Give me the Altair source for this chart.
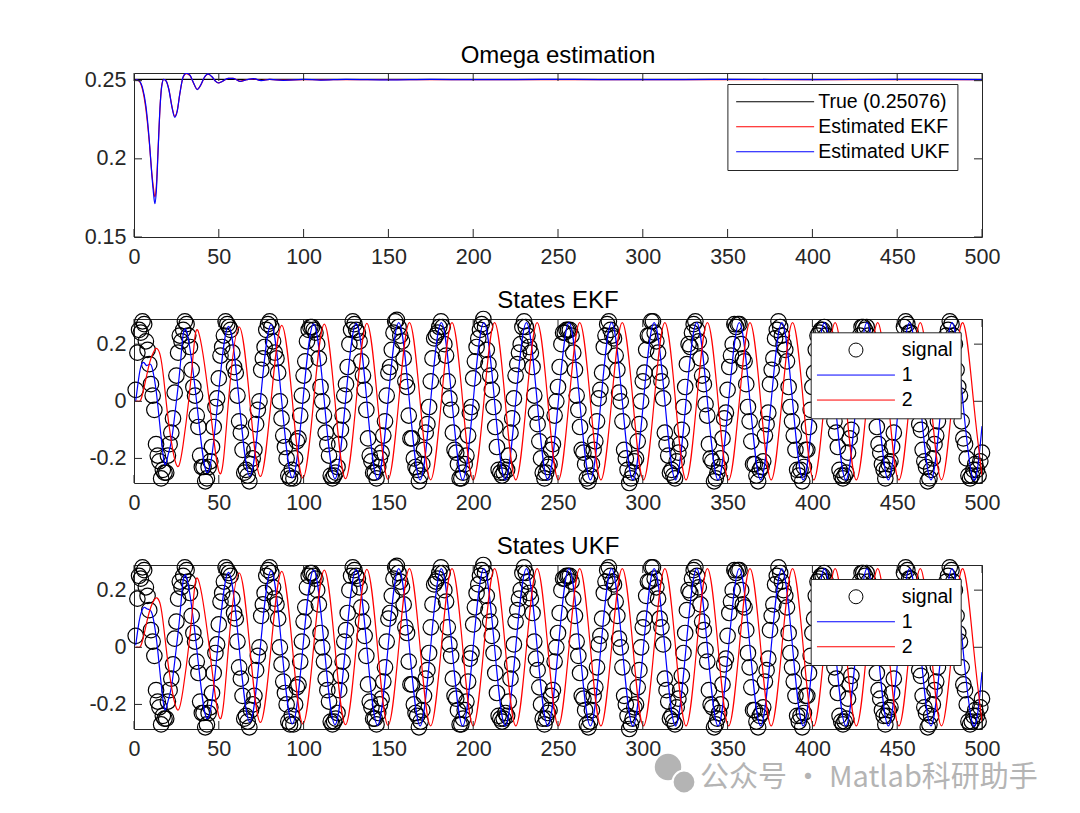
import altair as alt
import pandas as pd

FONT = "Liberation Sans"
AX = "#262626"
W, H = 848, 164
TL = 8
PATH = "M-5.57,0H5.57"

# ---------------- data ----------------
x_ticks = [0, 50, 100, 150, 200, 250, 300, 350, 400, 450, 500]
omega_ticks = [0.15, 0.2, 0.25]
state_ticks = [-0.2, 0, 0.2]
omega_domain = [0.15, 0.2549]
state_domain = [-0.286, 0.288]

true_omega = 0.25076
true_x = [0, 500]

omega_x = [1, 3, 5, 7, 9, 10.5, 11.5, 12.3, 13.2, 14.2, 15.3, 16.3, 17.5, 19, 20.5,
           22.5, 24, 25.5, 27, 29, 30.8, 33, 35, 37.3, 39.5, 41.5, 43.6, 46, 48, 49.8,
           52, 55.5, 58.5, 62.5, 66.5, 70.5, 75, 80, 88, 100, 110, 125, 150, 175, 200,
           250, 300, 350, 400, 450, 500]
omega_ukf = [0.2507, 0.2500, 0.2455, 0.234, 0.212, 0.19, 0.178, 0.1713, 0.18, 0.205,
             0.232, 0.246, 0.2508, 0.2497, 0.2445, 0.2325, 0.2266, 0.2305, 0.2415, 0.2525,
             0.2548, 0.2535, 0.2488, 0.2443, 0.2475, 0.2522, 0.2543, 0.2525, 0.2497, 0.2485,
             0.2495, 0.2515, 0.2515, 0.2495, 0.2506, 0.2513, 0.2500, 0.2508, 0.2502, 0.2508,
             0.2504, 0.2508, 0.2505, 0.2508, 0.2506, 0.2508, 0.2506, 0.2508, 0.2507, 0.2508,
             0.2507]
omega_ekf = [0.2507, 0.2498, 0.2445, 0.232, 0.211, 0.191, 0.181, 0.1756, 0.183, 0.206,
             0.232, 0.2465, 0.2508, 0.2497, 0.2447, 0.2328, 0.2272, 0.2308, 0.2415, 0.2523,
             0.2545, 0.2533, 0.2487, 0.2445, 0.2475, 0.252, 0.2541, 0.2524, 0.2497, 0.2486,
             0.2495, 0.2514, 0.2515, 0.2496, 0.2506, 0.2512, 0.2501, 0.2508, 0.2503, 0.2507,
             0.2505, 0.2507, 0.2506, 0.2507, 0.2507, 0.2507, 0.2507, 0.2507, 0.2507, 0.2507,
             0.2507]

# measured signal samples: odd steps 1,3,...,499 and even steps 2,4,...,500
signal_odd_x = list(range(1, 500, 2))
signal_even_x = list(range(2, 501, 2))
signal_odd = [
    0.04, 0.25, 0.28, 0.21, 0.13, 0.02, -0.15, -0.21, -0.24, -0.25, -0.15, -0.06, 0.09, 0.23, 0.25, 0.27, 0.19, 0.05, -0.05, -0.19, -0.23, -0.27, -0.21, -0.09, 0.01,
    0.16, 0.23, 0.27, 0.25, 0.12, 0.02, -0.11, -0.25, -0.26, -0.22, -0.17, -0.03, 0.11, 0.19, 0.27, 0.26, 0.17, 0.10, -0.06, -0.16, -0.26, -0.24, -0.20, -0.13, 0.02,
    0.14, 0.25, 0.26, 0.24, 0.15, 0.00, -0.11, -0.19, -0.27, -0.25, -0.15, -0.05, 0.06, 0.20, 0.28, 0.25, 0.21, 0.09, -0.03, -0.19, -0.25, -0.27, -0.20, -0.12, 0.02,
    0.12, 0.24, 0.285, 0.23, 0.15, 0.05, -0.13, -0.20, -0.24, -0.26, -0.17, -0.08, 0.07, 0.22, 0.24, 0.28, 0.20, 0.07, -0.03, -0.17, -0.22, -0.27, -0.22, -0.12, -0.02,
    0.14, 0.22, 0.27, 0.26, 0.13, 0.04, -0.09, -0.24, -0.26, -0.23, -0.19, -0.06, 0.09, 0.17, 0.26, 0.26, 0.19, 0.12, -0.04, -0.14, -0.25, -0.25, -0.22, -0.15, 0.00,
    0.12, 0.24, 0.25, 0.25, 0.17, 0.02, -0.09, -0.18, -0.27, -0.26, -0.17, -0.07, 0.04, 0.19, 0.27, 0.25, 0.22, 0.11, 0.00, -0.17, -0.24, -0.27, -0.21, -0.14, 0.00,
    0.10, 0.23, 0.28, 0.24, 0.17, 0.07, -0.11, -0.19, -0.24, -0.27, -0.18, -0.10, 0.05, 0.20, 0.24, 0.28, 0.21, 0.09, -0.01, -0.15, -0.21, -0.27, -0.23, -0.13, -0.04,
    0.12, 0.20, 0.26, 0.27, 0.15, 0.06, -0.07, -0.22, -0.26, -0.24, -0.21, -0.08, 0.06, 0.15, 0.25, 0.26, 0.20, 0.14, -0.02, -0.12, -0.24, -0.24, -0.23, -0.17, -0.03,
    0.10, 0.23, 0.25, 0.26, 0.19, 0.04, -0.07, -0.16, -0.26, -0.26, -0.18, -0.10, 0.02, 0.17, 0.26, 0.25, 0.23, 0.13, 0.02, -0.15, -0.22, -0.27, -0.22, -0.16, -0.02,
    0.08, 0.21, 0.28, 0.24, 0.18, 0.09, -0.08, -0.17, -0.23, -0.27, -0.20, -0.12, 0.03, 0.18, 0.23, 0.28, 0.23, 0.11, 0.02, -0.13, -0.20, -0.27, -0.24, -0.24, -0.21,
]
signal_even = [
    0.17, 0.24, 0.27, 0.18, 0.06, -0.03, -0.19, -0.27, -0.25, -0.19, -0.11, 0.03, 0.17, 0.21, 0.28, 0.23, 0.11, 0.02, -0.09, -0.23, -0.28, -0.23, -0.16, -0.02, 0.08,
    0.19, 0.28, 0.26, 0.17, 0.10, -0.07, -0.17, -0.24, -0.28, -0.20, -0.08, 0.00, 0.15, 0.25, 0.28, 0.21, 0.15, 0.00, -0.12, -0.20, -0.27, -0.27, -0.14, -0.05, 0.09,
    0.21, 0.26, 0.25, 0.20, 0.05, -0.05, -0.15, -0.26, -0.26, -0.23, -0.10, 0.02, 0.12, 0.25, 0.27, 0.24, 0.14, 0.04, -0.13, -0.21, -0.25, -0.23, -0.18, -0.07, 0.10,
    0.18, 0.28, 0.26, 0.21, 0.07, -0.05, -0.13, -0.23, -0.28, -0.22, -0.11, -0.02, 0.15, 0.23, 0.26, 0.26, 0.16, 0.01, -0.11, -0.18, -0.27, -0.25, -0.19, -0.04, 0.08,
    0.19, 0.25, 0.288, 0.18, 0.09, -0.02, -0.16, -0.25, -0.25, -0.24, -0.11, 0.01, 0.13, 0.20, 0.28, 0.23, 0.17, 0.02, -0.08, -0.20, -0.27, -0.23, -0.17, -0.05, 0.05,
    0.20, 0.24, 0.25, 0.23, 0.11, -0.03, -0.17, -0.22, -0.28, -0.22, -0.14, 0.01, 0.10, 0.23, 0.28, 0.23, 0.16, 0.03, -0.07, -0.20, -0.286, -0.25, -0.20, -0.08, 0.07,
    0.18, 0.23, 0.28, 0.21, 0.10, 0.01, -0.15, -0.25, -0.26, -0.21, -0.15, -0.02, 0.13, 0.19, 0.27, 0.25, 0.15, 0.06, -0.05, -0.20, -0.28, -0.25, -0.20, -0.06, 0.04,
    0.16, 0.27, 0.27, 0.20, 0.14, -0.02, -0.14, -0.22, -0.28, -0.23, -0.12, -0.04, 0.11, 0.22, 0.28, 0.23, 0.18, 0.05, -0.07, -0.17, -0.26, -0.28, -0.17, -0.09, 0.05,
    0.18, 0.24, 0.25, 0.23, 0.09, 0.00, -0.11, -0.24, -0.27, -0.25, -0.13, -0.02, 0.08, 0.23, 0.26, 0.26, 0.17, 0.09, -0.09, -0.18, -0.24, -0.24, -0.21, -0.11, 0.05,
    0.14, 0.26, 0.27, 0.24, 0.11, -0.01, -0.10, -0.21, -0.28, -0.24, -0.15, -0.07, 0.11, 0.20, 0.25, 0.27, 0.20, 0.05, -0.07, -0.15, -0.26, -0.26, -0.22, -0.26, -0.18,
]

# state 1 (blue) start-up part
blue_tx = [1, 3, 4.5, 6, 7.5, 9.5, 11, 13, 15, 17, 18.5, 20, 21.5, 23, 25, 27.5]
ekf_blue_t = [0, 0.09, 0.13, 0.135, 0.125, 0.13, 0.11, 0.04, -0.07, -0.18, -0.222, -0.19, -0.155, -0.10, 0.0, 0.14]
ukf_blue_t = [0.007, 0.09, 0.126, 0.14, 0.135, 0.13, 0.11, 0.04, -0.07, -0.18, -0.219, -0.19, -0.155, -0.10, 0.0, 0.14]

# state 2 (red) start-up part
red_tx = [1, 2.5, 4, 6, 8, 10, 12, 13.5, 15.5, 17.5, 19.5, 21.5, 23.5, 26.2, 29, 32.2, 35, 38, 44.4, 50.8]
ekf_red_t = [0, 0, 0.005, 0.05, 0.105, 0.15, 0.178, 0.185, 0.16, 0.08, -0.03, -0.12, -0.19, -0.228, -0.15, 0.0, 0.17, 0.243, 0.0, -0.254]
ukf_red_t = [0, 0, 0.005, 0.047, 0.1, 0.142, 0.167, 0.173, 0.15, 0.072, -0.03, -0.115, -0.182, -0.219, -0.145, 0.0, 0.165, 0.235, 0.0, -0.25]

# peaks / zero crossings / troughs read after the start-up
key_x = [30.6, 36.9, 43.2, 49.4, 55.7, 62.0, 68.3, 74.5, 80.8, 87.1, 93.4, 99.6,
         105.9, 112.2, 118.5, 124.7, 131.0, 137.3, 143.6, 149.8, 156.1, 162.4, 168.7, 174.9,
         181.2, 187.5, 193.8, 200.0, 206.3, 212.6, 218.9, 225.1, 231.4, 237.7, 244.0, 250.2,
         256.5, 262.8, 269.1, 275.3, 281.6, 287.9, 294.2, 300.4, 306.7, 313.0, 319.3, 325.5,
         331.8, 338.1, 344.4, 350.6, 356.9, 363.2, 369.5, 375.7, 382.0, 388.3, 394.6, 400.8,
         407.1, 413.4, 419.7, 425.9, 432.2, 438.5, 444.8, 451.0, 457.3, 463.6, 469.9, 476.1,
         482.4, 488.7, 495.0, 500.0]
blue_key = [0.25, 0, -0.25, 0, 0.262, 0, -0.262, 0, 0.268, 0, -0.268, 0,
            0.271, 0, -0.271, 0, 0.273, 0, -0.273, 0, 0.275, 0, -0.275, 0,
            0.275, 0, -0.275, 0, 0.275, 0, -0.275, 0, 0.275, 0, -0.275, 0,
            0.275, 0, -0.275, 0, 0.275, 0, -0.275, 0, 0.275, 0, -0.275, 0,
            0.275, 0, -0.275, 0, 0.275, 0, -0.275, 0, 0.275, 0, -0.275, 0,
            0.275, 0, -0.275, 0, 0.275, 0, -0.275, 0, 0.275, 0, -0.275, 0,
            0.275, 0, -0.275, -0.087]
red_key = [0, 0.26, 0, -0.263, 0, 0.266, 0, -0.268,
           0, 0.27, 0, -0.271, 0, 0.273, 0, -0.273, 0, 0.275, 0, -0.275,
           0, 0.275, 0, -0.275, 0, 0.275, 0, -0.275, 0, 0.275, 0, -0.275,
           0, 0.275, 0, -0.275, 0, 0.275, 0, -0.275, 0, 0.275, 0, -0.275,
           0, 0.275, 0, -0.275, 0, 0.275, 0, -0.275, 0, 0.275, 0, -0.275,
           0, 0.275, 0, -0.275, 0, 0.275, 0, -0.275,
           0, 0.275, 0, -0.275, 0, 0.275, 0, -0.26]

omega_names = ["True (0.25076)", "Estimated EKF", "Estimated UKF"]
state_names = ["signal", "1", "2"]
watermark = "公众号 · Matlab科研助手"

# ---------------- helpers ----------------
XS = alt.Scale(domain=[0, 500], nice=False, zero=False)


def x_axis():
    return alt.Axis(values=x_ticks, title=None, domain=False, ticks=False, grid=False,
                    labelFont=FONT, labelFontSize=21.5, labelColor=AX, labelPadding=9,
                    labelFlush=False, labelOverlap=False, format="d")


def y_axis(vals):
    return alt.Axis(values=vals, title=None, domain=False, ticks=False, grid=False,
                    labelFont=FONT, labelFontSize=21.5, labelColor=AX, labelPadding=8,
                    labelOverlap=False,
                    labelExpr="datum.value < 0 ? '-' + format(-datum.value, '') : format(datum.value, '')")


def X(field):
    return alt.X(field, scale=XS, axis=x_axis())


def Y(field, dom, vals):
    return alt.Y(field, scale=alt.Scale(domain=dom, nice=False, zero=False), axis=y_axis(vals))


def tick_layers(yvals, ydom):
    dx = pd.DataFrame({"tx": x_ticks})
    dy = pd.DataFrame({"ty": yvals})
    st = dict(color=AX, strokeWidth=1)
    return [
        alt.Chart(dx).mark_rule(**st).encode(x=X("tx:Q"), y=alt.value(H), y2=alt.value(H - TL)),
        alt.Chart(dx).mark_rule(**st).encode(x=X("tx:Q"), y=alt.value(0), y2=alt.value(TL)),
        alt.Chart(dy).mark_rule(**st).encode(y=Y("ty:Q", ydom, yvals), x=alt.value(0), x2=alt.value(TL)),
        alt.Chart(dy).mark_rule(**st).encode(y=Y("ty:Q", ydom, yvals), x=alt.value(W - TL), x2=alt.value(W)),
    ]


def legend(lx, ly, so, lo):
    return alt.Legend(orient="none", legendX=lx, legendY=ly, title=None, fillColor="white",
                      strokeColor=AX, padding=8, labelFont=FONT, labelFontSize=19.5,
                      labelColor="black", symbolType=PATH, symbolSize=196, symbolStrokeWidth=1,
                      symbolOffset=so, labelOffset=lo, rowPadding=4, labelLimit=400,
                      symbolFillColor="transparent", symbolOpacity=1)


def title(t, off):
    return alt.TitleParams(t, font=FONT, fontSize=24, fontWeight="normal", color="black",
                           offset=off, anchor="middle")


# ---------------- top panel ----------------
oc = alt.Scale(domain=omega_names, range=["#000000", "#ff0000", "#0000ff"])
LT = legend(593.4, 11, 30, 33.3)
df_true = pd.DataFrame({"x": true_x, "y": [true_omega, true_omega], "series": omega_names[0]})
df_ekf = pd.DataFrame({"x": omega_x, "y": omega_ekf, "series": omega_names[1]})
df_ukf = pd.DataFrame({"x": omega_x, "y": omega_ukf, "series": omega_names[2]})


def omega_line(df, interp):
    return alt.Chart(df).mark_line(strokeWidth=1.2, clip=True, interpolate=interp).encode(
        x=X("x:Q"), y=Y("y:Q", omega_domain, omega_ticks),
        color=alt.Color("series:N", scale=oc, legend=LT))


top = alt.layer(
    omega_line(df_true, "linear"), omega_line(df_ekf, "monotone"), omega_line(df_ukf, "monotone"),
    *tick_layers(omega_ticks, omega_domain)
).properties(width=W, height=H, title=title("Omega estimation", 2))

# ---------------- state panels ----------------
sc = alt.Scale(domain=state_names, range=["#000000", "#0000ff", "#ff0000"])
ss = alt.Scale(domain=state_names, range=["circle", PATH, PATH])


def state_panel(name, blue_t, red_t, ly, extra=()):
    L = legend(676.7, ly, 27.5, 36)
    d_sig = pd.DataFrame({"x": signal_odd_x + signal_even_x, "y": signal_odd + signal_even,
                          "series": "signal"})
    d_b = pd.DataFrame({"x": blue_tx + key_x, "y": blue_t + blue_key, "series": "1"})
    d_r = pd.DataFrame({"x": red_tx + key_x[4:], "y": red_t + red_key, "series": "2"})
    pts = alt.Chart(d_sig).mark_point(filled=False, size=240, strokeWidth=1.2, opacity=1, clip=False).encode(
        x=X("x:Q"), y=Y("y:Q", state_domain, state_ticks),
        color=alt.Color("series:N", scale=sc, legend=L),
        shape=alt.Shape("series:N", scale=ss, legend=L))

    def ln(d):
        return alt.Chart(d).mark_line(strokeWidth=1.2, interpolate="natural", clip=True).encode(
            x=X("x:Q"), y=Y("y:Q", state_domain, state_ticks),
            color=alt.Color("series:N", scale=sc, legend=L))

    layers = [pts, ln(d_b), ln(d_r), *tick_layers(state_ticks, state_domain), *extra]
    return alt.layer(*layers).properties(width=W, height=H, title=title(name, -4))


WM_GRAY = "#b4b4b4"
one = pd.DataFrame({"k": [0]})
wm_text = alt.Chart(pd.DataFrame({"w": [watermark]})).mark_text(
    align="left", baseline="middle", font="Noto Sans CJK SC", fontSize=29, color=WM_GRAY
).encode(text="w:N", x=alt.value(566), y=alt.value(213))
wm_b1 = alt.Chart(one).mark_circle(size=700, color=WM_GRAY, opacity=1).encode(
    x=alt.value(534), y=alt.value(202))
wm_b2 = alt.Chart(one).mark_circle(size=520, color=WM_GRAY, opacity=1, stroke="white", strokeWidth=2).encode(
    x=alt.value(550), y=alt.value(217))

mid = state_panel("States EKF", ekf_blue_t, ekf_red_t, 13.3)
bot = state_panel("States UKF", ukf_blue_t, ukf_red_t, 14.0, (wm_text, wm_b1, wm_b2))

chart = alt.vconcat(top, mid, bot, spacing=82).properties(
    bounds="flush",
    padding={"left": 75, "top": 35, "right": 5, "bottom": 5},
).resolve_scale(
    x="independent", y="independent", color="independent", shape="independent"
).configure_view(stroke=AX, strokeWidth=1)

chart.save("out.html", embed_options={"renderer": "svg", "actions": False})
